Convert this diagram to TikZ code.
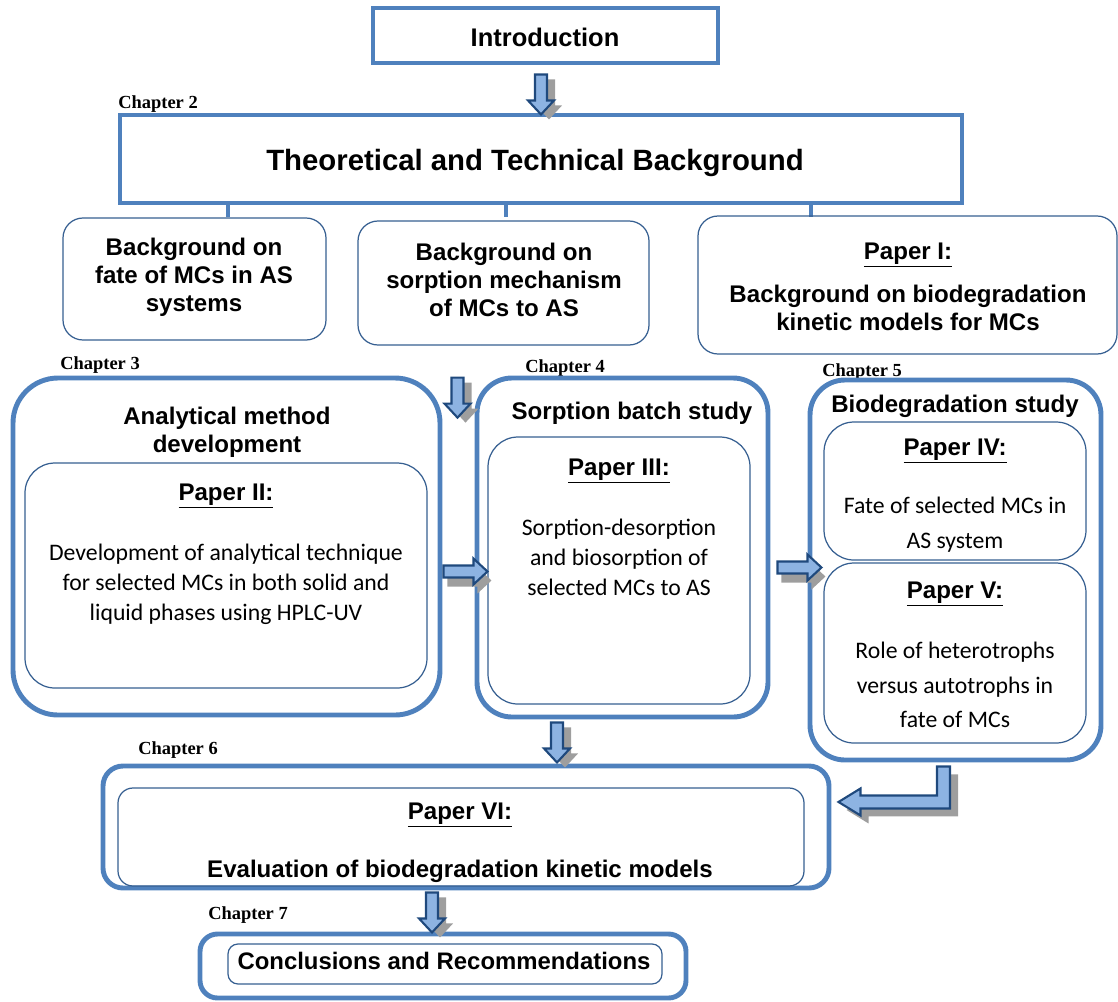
\documentclass[tikz,border=0pt]{standalone}
\usepackage{fontspec}
\setmainfont{Liberation Serif}
\newfontfamily\arialfont{Liberation Sans}
\newfontfamily\calibfont{Carlito}
\usetikzlibrary{calc,fit}
\definecolor{boxblue}{RGB}{79,129,189}
\definecolor{lineblue}{RGB}{54,95,145}
\definecolor{arrowfill}{RGB}{141,179,226}
\definecolor{arrowedge}{RGB}{31,73,125}
\definecolor{shadowgray}{RGB}{158,158,158}

\begin{document}
\begin{tikzpicture}[x=0.02cm,y=-0.02cm,
  bigbox/.style={draw=boxblue,line width=2.8pt,inner sep=0pt},
  thinbox/.style={draw=lineblue,line width=0.7pt,inner sep=0pt},
  head/.style={font=\arialfont\bfseries\fontsize{13.7}{16}\selectfont,align=center},
  body/.style={font=\calibfont\fontsize{13.5}{17}\selectfont,align=center},
  chap/.style={font=\bfseries\fontsize{10.5}{12}\selectfont,anchor=base west,inner sep=0pt},
  blk/.style={draw=arrowedge,fill=arrowfill,line width=1.2pt,line join=miter},
  dnarrow/.pic={
    \fill[shadowgray,shift={(8,5)}] (-6,0) -- (6,0) -- (6,26) -- (13,26) -- (0,40) -- (-13,26) -- (-6,26) -- cycle;
    \draw[blk] (-6,0) -- (6,0) -- (6,26) -- (13,26) -- (0,40) -- (-13,26) -- (-6,26) -- cycle;
  },
  rtarrow/.pic={
    \fill[shadowgray,shift={(4,9)}] (0,-6) -- (30,-6) -- (30,-13) -- (44,0) -- (30,13) -- (30,6) -- (0,6) -- cycle;
    \draw[blk] (0,-6) -- (30,-6) -- (30,-13) -- (44,0) -- (30,13) -- (30,6) -- (0,6) -- cycle;
  }]
\useasboundingbox (0,0) rectangle (1118,1001);

% top of the plan
\node[bigbox,fit={(373,8) (718,63)}] (intro) {};
\node[head,font=\arialfont\bfseries\fontsize{14.5}{17}\selectfont] at (545,37) {Introduction};

\node[chap] at (118,108) {Chapter 2};
\node[bigbox,fit={(120,115) (962,203)}] (theo) {};
\node[head,font=\arialfont\bfseries\fontsize{16.7}{19}\selectfont] at (535,163) {Theoretical and Technical Background};
\foreach \x in {228,506,811}{%
\draw[boxblue,line width=2.4pt] (theo.south -| \x,0) -- ++(0,12);
}

\node[thinbox,rounded corners=0.4cm,fit={(63,218) (326,340)}] (bg1) {};
\node[head] at (194,277) {Background on\\fate of MCs in AS\\systems};
\node[thinbox,rounded corners=0.4cm,fit={(358,221) (649,345)}] (bg2) {};
\node[head] at (504,280) {Background on\\sorption mechanism\\of MCs to AS};
\node[thinbox,rounded corners=0.4cm,fit={(698,216) (1117,354)}] (bg3) {};
\node[head] at (908,255) {\underline{Paper I:}};
\node[head] at (908,308) {Background on biodegradation\\kinetic models for MCs};

% chapters 3 to 5
\node[chap] at (60,369) {Chapter 3};
\node[bigbox,rounded corners=0.9cm,fit={(13,378) (440,715)}] (ch3) {};
\node[head] at (227,432) {Analytical method\\development};
\node[thinbox,rounded corners=0.6cm,fit={(25,463) (427,688)}] (p2) {};
\node[head] at (226,496) {\underline{Paper II:}};
\node[body] at (226,584) {Development of analytical technique\\for selected MCs in both solid and\\liquid phases using HPLC-UV};

\node[chap] at (525,372) {Chapter 4};
\node[bigbox,rounded corners=0.7cm,fit={(477,378) (768,717)}] (ch4) {};
\node[head] at (632,413) {Sorption batch study};
\node[thinbox,rounded corners=0.6cm,fit={(488,437) (750,704)}] (p3) {};
\node[head] at (619,471) {\underline{Paper III:}};
\node[body] at (619,557) {Sorption-desorption\\and biosorption of\\selected MCs to AS};

\node[chap] at (822,376) {Chapter 5};
\node[bigbox,rounded corners=0.7cm,fit={(810,380) (1101,760)}] (ch5) {};
\node[head] at (955,406) {Biodegradation study};
\node[thinbox,rounded corners=0.6cm,fit={(824,422) (1086,560)}] (p4) {};
\node[head] at (955,451) {\underline{Paper IV:}};
\node[body,font=\calibfont\fontsize{13.5}{20}\selectfont] at (955,525) {Fate of selected MCs in\\AS system};
\node[thinbox,rounded corners=0.6cm,fit={(824,563) (1086,743)}] (p5) {};
\node[head] at (955,594) {\underline{Paper V:}};
\node[body,font=\calibfont\fontsize{13.5}{19.5}\selectfont] at (955,685) {Role of heterotrophs\\versus autotrophs in\\fate of MCs};

% chapters 6 and 7
\node[chap] at (138,754) {Chapter 6};
\node[bigbox,rounded corners=0.4cm,fit={(103,766) (829,888)}] (ch6) {};
\node[thinbox,rounded corners=0.3cm,fit={(118,788) (804,886)}] (p6) {};
\node[head] at (460,815) {\underline{Paper VI:}};
\node[head] at (460,871) {Evaluation of biodegradation kinetic models};

\node[chap] at (208,919) {Chapter 7};
\node[bigbox,rounded corners=0.35cm,fit={(200,934) (686,998)}] (ch7) {};
\node[thinbox,rounded corners=0.2cm,fit={(228,944) (662,984)}] (concl) {};
\node[head,font=\arialfont\bfseries\fontsize{13.6}{16}\selectfont] at (444,961) {Conclusions and Recommendations};

% block arrows
\pic at ($(intro.south)+(-4.5,9)$) {dnarrow};
\pic at ($(bg2.south)+(-46,32)$) {dnarrow};
\pic at ($(ch4.south)+(-65.5,3)$) {dnarrow};
\pic at ($(ch6.south)+(-34,2)$) {dnarrow};
\pic at ($(ch3.east)+(1,25)$) {rtarrow};
\pic at ($(ch4.east)+(7,20)$) {rtarrow};

\coordinate (elb) at ($(ch5.south)+(-12,4)$);
\begin{scope}[shift={(elb)}]
\fill[shadowgray,shift={(8,8)}] (-6.5,0) -- (6.5,0) -- (6.5,42) -- (-83,42) -- (-83,49) -- (-105,35.5) -- (-83,22) -- (-83,29) -- (-6.5,29) -- cycle;
\draw[blk] (-6.5,0) -- (6.5,0) -- (6.5,42) -- (-83,42) -- (-83,49) -- (-105,35.5) -- (-83,22) -- (-83,29) -- (-6.5,29) -- cycle;
\end{scope}

\end{tikzpicture}
\end{document}
